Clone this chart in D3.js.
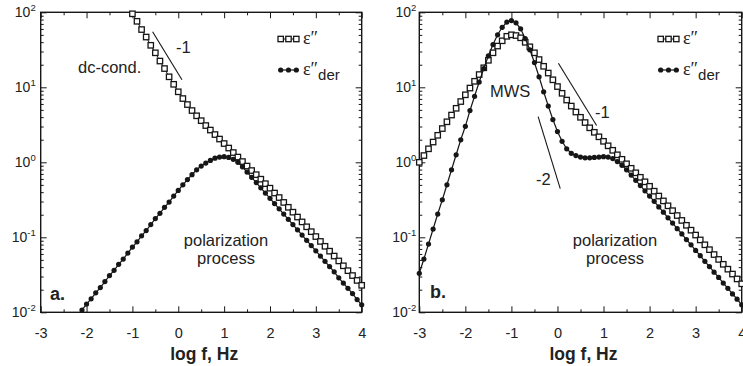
<!DOCTYPE html>
<html>
<head>
<meta charset="utf-8">
<script src="https://cdn.jsdelivr.net/npm/d3@7"></script>
<style>
  html, body { margin: 0; padding: 0; background: #fff; }
  svg { display: block; font-family: "Liberation Sans", Arial, Helvetica, sans-serif; }
</style>
</head>
<body>
<svg id="chart" width="743" height="366"></svg>
<script>
// Loss spectra, log10(value) every 0.1 decade of frequency.
// Panel a: conductivity + polarization process
const aEpsStart = -1.0;
const aEps = [
  1.98, 1.88, 1.77, 1.67, 1.56, 1.46, 1.35, 1.25, 1.14, 1.04,
  0.94, 0.85, 0.77, 0.69, 0.62, 0.555, 0.49, 0.43, 0.37, 0.31,
  0.25, 0.19, 0.13, 0.07, 0.01, -0.05, -0.11, -0.165, -0.225, -0.285,
  -0.345, -0.41, -0.47, -0.535, -0.60, -0.665, -0.73, -0.795, -0.86, -0.925,
  -0.99, -1.055, -1.12, -1.185, -1.25, -1.315, -1.38, -1.445, -1.51, -1.575,
  -1.64
];
const aDerStart = -2.1;
const aDer = [
  -1.97,
  -1.89, -1.82, -1.74, -1.67, -1.59, -1.51, -1.44, -1.36, -1.29, -1.21,
  -1.13, -1.06, -0.98, -0.91, -0.83, -0.75, -0.68, -0.60, -0.53, -0.45,
  -0.375, -0.30, -0.23, -0.165, -0.10, -0.05, -0.01, 0.025, 0.055, 0.07,
  0.075, 0.065, 0.04, 0.0, -0.06, -0.13, -0.20, -0.27, -0.34, -0.41,
  -0.48, -0.55, -0.62, -0.69, -0.76, -0.83, -0.90, -0.97, -1.04, -1.11,
  -1.18, -1.25, -1.32, -1.39, -1.46, -1.54, -1.61, -1.68, -1.75, -1.83,
  -1.90
];
// Panel b: MWS relaxation + polarization process
const bStart = -3.0;
const bEps = [
  0.00, 0.09, 0.18, 0.27, 0.36, 0.45, 0.54, 0.63, 0.72, 0.81,
  0.90, 0.99, 1.08, 1.17, 1.26, 1.36, 1.46, 1.55, 1.62, 1.68,
  1.70, 1.69, 1.66, 1.60, 1.54, 1.46, 1.37, 1.28, 1.19, 1.10,
  1.01, 0.92, 0.83, 0.75, 0.67, 0.60, 0.53, 0.46, 0.40, 0.34,
  0.28, 0.22, 0.16, 0.10, 0.04, -0.02, -0.08, -0.14, -0.20, -0.26,
  -0.32, -0.385, -0.45, -0.515, -0.58, -0.645, -0.71, -0.775, -0.84, -0.905,
  -0.97, -1.035, -1.10, -1.165, -1.23, -1.295, -1.36, -1.425, -1.49, -1.555,
  -1.62
];
const bDer = [
  -1.48, -1.29, -1.09, -0.89, -0.69, -0.50, -0.30, -0.10, 0.10, 0.30,
  0.48, 0.69, 0.88, 1.07, 1.25, 1.42, 1.57, 1.70, 1.80, 1.87,
  1.89, 1.86, 1.78, 1.65, 1.50, 1.33, 1.14, 0.94, 0.75, 0.57,
  0.41, 0.28, 0.18, 0.12, 0.09, 0.07, 0.06, 0.06, 0.065, 0.07,
  0.075, 0.07, 0.05, 0.01, -0.04, -0.10, -0.17, -0.24, -0.31, -0.38,
  -0.45, -0.52, -0.595, -0.665, -0.74, -0.81, -0.885, -0.955, -1.03, -1.10,
  -1.175, -1.245, -1.32, -1.39, -1.465, -1.535, -1.61, -1.68, -1.755, -1.825,
  -1.90
];
const step = 0.1;

const xTicks = [-3, -2, -1, 0, 1, 2, 3, 4];
const yTickExp = [-2, -1, 0, 1, 2];

// slope guides: start (log f, log eps), end log f, slope
const guidesA = [{ f0: -0.56, v0: 1.74, f1: 0.08, slope: -1 }];
const guidesB = [
  { f0: 0.02, v0: 1.32, f1: 0.85, slope: -1 },
  { f0: -0.42, v0: 0.61, f1: 0.06, slope: -2 }
];

const svg = d3.select("#chart");
const INK = "#161616";
const TOP = 12.3, BOTTOM = 312.3;
const SQ = 5.4;   // open square side
const DOT = 2.6;  // filled circle radius

function toPoints(start, vals) {
  return vals.map((v, i) => ({ f: +(start + i * step).toFixed(2), v: Math.pow(10, v) }));
}

function drawPanel(cfg) {
  const g = svg.append("g");
  const x = d3.scaleLinear().domain([-3, 4]).range([cfg.left, cfg.right]);
  const y = d3.scaleLog().domain([1e-2, 1e2]).range([BOTTOM, TOP]);

  const majorY = yTickExp.map(e => Math.pow(10, e));
  const minorY = [];
  yTickExp.slice(0, -1).forEach(e => { for (let m = 2; m <= 9; m++) minorY.push(m * Math.pow(10, e)); });
  const minorX = xTicks.slice(0, -1).map(v => v + 0.5);

  // inward ticks on all four sides
  const sides = [
    [() => d3.axisBottom(x), `translate(0,${BOTTOM})`, xTicks, minorX],
    [() => d3.axisTop(x), `translate(0,${TOP})`, xTicks, minorX],
    [() => d3.axisLeft(y), `translate(${cfg.left},0)`, majorY, minorY],
    [() => d3.axisRight(y), `translate(${cfg.right},0)`, majorY, minorY]
  ];
  sides.forEach(([mk, tr, major, minor]) => {
    [[major, -6], [minor, -3]].forEach(([vals, size]) => {
      const ax = g.append("g").attr("transform", tr)
        .call(mk().tickValues(vals).tickSize(size).tickFormat(""));
      ax.select(".domain").remove();
      ax.selectAll("line").attr("stroke", INK).attr("stroke-width", 1);
    });
  });

  // x tick labels
  const xl = g.append("g").attr("transform", `translate(0,${BOTTOM})`)
    .call(d3.axisBottom(x).tickValues(xTicks).tickSize(0).tickPadding(15).tickFormat(d => String(d)));
  xl.select(".domain").remove();
  xl.selectAll("text").attr("font-size", 14.5).attr("fill", "#222")
    .attr("font-family", "'Liberation Sans', Arial, sans-serif");

  // y tick labels as powers of ten
  yTickExp.forEach(e => {
    const t = g.append("text")
      .attr("x", cfg.left - cfg.labelGap).attr("y", y(Math.pow(10, e)) + 5)
      .attr("text-anchor", "end").attr("fill", "#222").attr("font-size", 14);
    t.append("tspan").text("10");
    t.append("tspan").attr("dy", -6).attr("font-size", 9.5).text(String(e));
  });

  // frame
  g.append("rect")
    .attr("x", cfg.left).attr("y", TOP)
    .attr("width", cfg.right - cfg.left).attr("height", BOTTOM - TOP)
    .attr("fill", "none").attr("stroke", INK).attr("stroke-width", 1.4);

  // axis title
  g.append("text")
    .attr("x", x(0.5) + 3).attr("y", 360)
    .attr("text-anchor", "middle").attr("font-weight", "bold")
    .attr("font-size", 17.5).attr("fill", "#222")
    .text("log f, Hz");

  // slope guides
  cfg.guides.forEach(gd => {
    const v1 = gd.v0 + gd.slope * (gd.f1 - gd.f0);
    g.append("line")
      .attr("x1", x(gd.f0)).attr("y1", y(Math.pow(10, gd.v0)))
      .attr("x2", x(gd.f1)).attr("y2", y(Math.pow(10, v1)))
      .attr("stroke", INK).attr("stroke-width", 1.1);
  });

  const line = d3.line().x(d => x(d.f)).y(d => y(d.v));
  const eps = toPoints(cfg.epsStart, cfg.eps);
  const der = toPoints(cfg.derStart, cfg.der);

  // eps'' : open squares
  g.append("path").datum(eps).attr("d", line)
    .attr("fill", "none").attr("stroke", INK).attr("stroke-width", 1);
  g.append("g").selectAll("rect").data(eps).join("rect")
    .attr("x", d => x(d.f) - SQ / 2).attr("y", d => y(d.v) - SQ / 2)
    .attr("width", SQ).attr("height", SQ)
    .attr("fill", "#fff").attr("stroke", INK).attr("stroke-width", 1.3);

  // eps''_der : filled circles
  g.append("path").datum(der).attr("d", line)
    .attr("fill", "none").attr("stroke", INK).attr("stroke-width", 1.2);
  g.append("g").selectAll("circle").data(der).join("circle")
    .attr("cx", d => x(d.f)).attr("cy", d => y(d.v)).attr("r", DOT)
    .attr("fill", INK);

  // legend
  const lx = cfg.legendX;
  const sq = g.append("g");
  sq.append("line").attr("x1", lx).attr("x2", lx + 21).attr("y1", 39).attr("y2", 39)
    .attr("stroke", INK).attr("stroke-width", 1);
  [2.7, 10.5, 18.3].forEach(dx => sq.append("rect")
    .attr("x", lx + dx - SQ / 2).attr("y", 39 - SQ / 2).attr("width", SQ).attr("height", SQ)
    .attr("fill", "#fff").attr("stroke", INK).attr("stroke-width", 1.3));
  const ci = g.append("g");
  ci.append("line").attr("x1", lx).attr("x2", lx + 21).attr("y1", 70).attr("y2", 70)
    .attr("stroke", INK).attr("stroke-width", 1.2);
  [2.7, 10.5, 18.3].forEach(dx => ci.append("circle")
    .attr("cx", lx + dx).attr("cy", 70).attr("r", DOT).attr("fill", INK));

  const e1 = g.append("text").attr("x", lx + 25).attr("y", 44).attr("fill", "#222");
  e1.append("tspan").attr("font-family", "'Liberation Serif', serif").attr("font-size", 18).text("ε\u2033");
  const e2 = g.append("text").attr("x", lx + 25).attr("y", 75).attr("fill", "#222");
  e2.append("tspan").attr("font-family", "'Liberation Serif', serif").attr("font-size", 18).text("ε\u2033");
  e2.append("tspan").attr("dy", 5).attr("font-size", 15).text("der");

  // annotations
  cfg.notes.forEach(n => {
    g.append("text").attr("x", n.x).attr("y", n.y)
      .attr("text-anchor", n.anchor || "start")
      .attr("font-size", n.size || 16.5)
      .attr("font-weight", n.bold ? "bold" : "normal")
      .attr("fill", "#222").text(n.text);
  });
}

drawPanel({
  left: 40.7, right: 361.7, labelGap: 5,
  eps: aEps, epsStart: aEpsStart, der: aDer, derStart: aDerStart,
  guides: guidesA, legendX: 278,
  notes: [
    { text: "dc-cond.", x: 78, y: 73 },
    { text: "-1", x: 176, y: 53 },
    { text: "polarization", x: 226, y: 246, anchor: "middle" },
    { text: "process", x: 226, y: 264, anchor: "middle" },
    { text: "a.", x: 50, y: 300, bold: true, size: 18 }
  ]
});

drawPanel({
  left: 419.3, right: 741.7, labelGap: 3,
  eps: bEps, epsStart: bStart, der: bDer, derStart: bStart,
  guides: guidesB, legendX: 658,
  notes: [
    { text: "MWS", x: 490, y: 97 },
    { text: "-1", x: 595, y: 118 },
    { text: "-2", x: 536, y: 185 },
    { text: "polarization", x: 615, y: 246, anchor: "middle" },
    { text: "process", x: 615, y: 264, anchor: "middle" },
    { text: "b.", x: 430, y: 298, bold: true, size: 18 }
  ]
});
</script>
</body>
</html>
